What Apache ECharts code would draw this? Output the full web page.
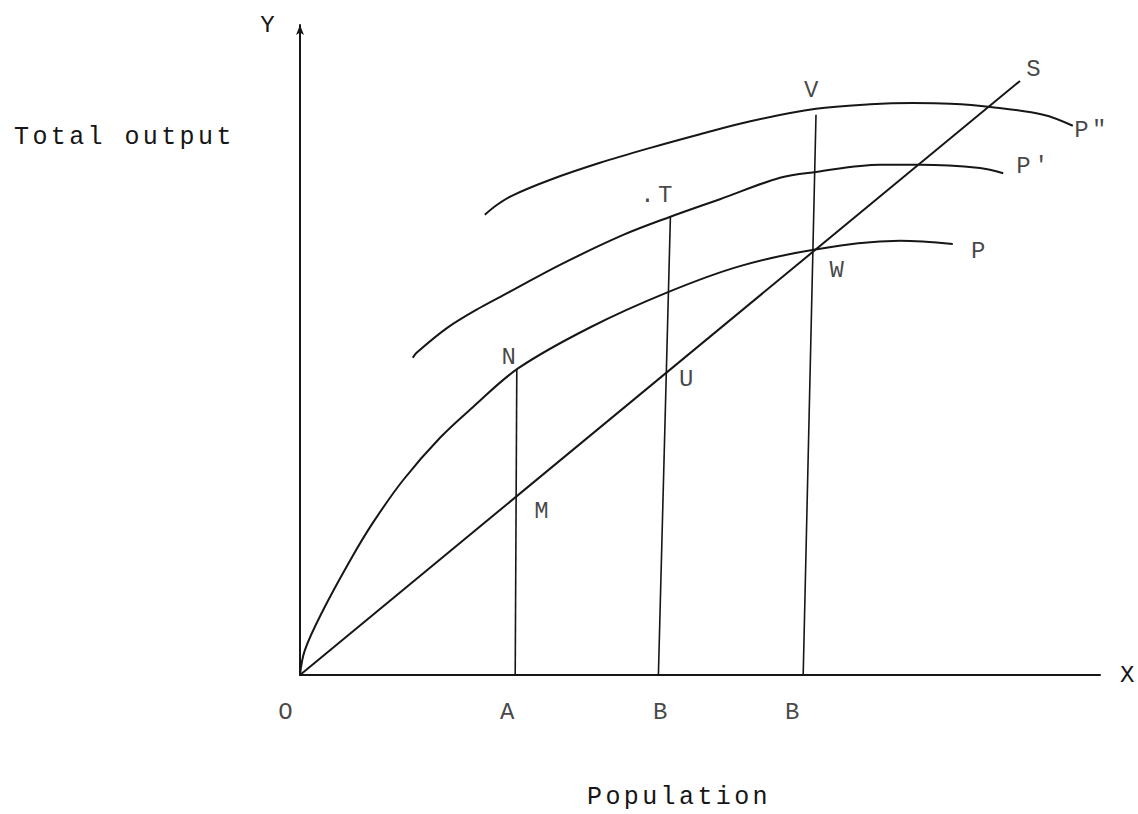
<!DOCTYPE html>
<html>
<head>
<meta charset="utf-8">
<script src="https://cdn.jsdelivr.net/npm/echarts@6/dist/echarts.min.js"></script>
<style>
html, body { margin: 0; padding: 0; background: #fff; }
#chart { width: 1138px; height: 814px; }
#chart text { letter-spacing: 3.4px; }
</style>
</head>
<body>
<div id="chart"></div>
<script>
// population (x) vs total output (y), arbitrary units 0..100
const sX = [0, 90];
const sY = [0, 91.4];

const pX = [0, 0.6, 2.9, 6.3, 9.1, 12.9, 17.5, 21.6, 27.3, 36.3, 46.0, 55.0, 64.6, 75.0, 81.6];
const pY = [0, 3.8, 10.0, 17.7, 23.4, 30.0, 36.5, 41.2, 47.2, 53.5, 58.9, 62.9, 65.5, 66.8, 66.3];

const p1X = [14.1, 14.6, 18.4, 22.5, 26.6, 32.5, 40.4, 46.3, 52.5, 60.0, 64.5, 72.5, 77.5, 85.0, 87.9];
const p1Y = [48.8, 49.6, 53.4, 56.5, 59.2, 63.1, 67.7, 70.5, 73.2, 76.5, 77.4, 78.5, 78.5, 78.0, 77.2];

const p2X = [23.1, 24.6, 26.6, 31.3, 37.5, 43.8, 50.0, 56.3, 64.5, 71.3, 76.6, 81.3, 86.3, 92.9, 96.6];
const p2Y = [70.8, 72.3, 73.8, 76.2, 78.8, 81.1, 83.2, 85.2, 87.1, 87.8, 88.0, 87.9, 87.4, 86.2, 84.5];

// verticals A, B, B: [bottom x, top x, top y]
const dropBottomX = [26.9, 44.8, 62.9];
const dropTopX = [27.1, 46.3, 64.5];
const dropTopY = [47.0, 70.5, 86.2];

// tick letters under the x axis
const tickNames = ['O', 'A', 'B', 'B'];
const tickX = [-1.6, 26.1, 45.25, 61.75];
const tickY = [-5.7, -5.7, -5.7, -5.7];

const labelNames = ['N', 'M', 'U', '.T', 'V', 'W', 'S', 'P\u2033', 'P\u2032', 'P'];
const labelX = [26.3, 30.4, 48.5, 44.75, 64.1, 67.3, 91.9, 99, 91.75, 85];
const labelY = [48.8, 25.1, 45.4, 73.7, 90.0, 62.3, 93.1, 83.8, 78.2, 65.1];

const ink = '#161616';
const font = 'Liberation Mono';

function zip(xs, ys) {
    return xs.map((x, i) => [x, ys[i]]);
}

function curve(name, xs, ys) {
    return {
        name, type: 'line', data: zip(xs, ys),
        smooth: 0.35, symbol: 'none', silent: true,
        lineStyle: {color: ink, width: 2}
    };
}

function letters(name, names, xs, ys) {
    return {
        name, type: 'scatter', symbolSize: 1, silent: true, clip: false,
        itemStyle: {color: 'rgba(0,0,0,0)'},
        data: names.map((n, i) => [xs[i], ys[i], n]),
        label: {
            show: true, position: 'inside',
            formatter: (p) => p.data[2],
            fontFamily: font, fontSize: 24, color: ink
        }
    };
}

const series = [
    {
        name: 'S', type: 'line', data: zip(sX, sY), symbol: 'none', silent: true,
        lineStyle: {color: ink, width: 2}
    },
    curve('P', pX, pY),
    curve('P1', p1X, p1Y),
    curve('P2', p2X, p2Y),
];

dropBottomX.forEach((x, i) => {
    series.push({
        name: 'drop' + i, type: 'line', symbol: 'none', silent: true,
        data: [[x, 0], [dropTopX[i], dropTopY[i]]],
        lineStyle: {color: ink, width: 1.6}
    });
});

series.push(letters('labels', labelNames, labelX, labelY));
series.push(letters('ticks', tickNames, tickX, tickY));

const chart = echarts.init(document.getElementById('chart'), null, {renderer: 'svg'});
chart.setOption({
    animation: false,
    backgroundColor: '#fff',
    title: [
        {text: 'Total output', left: 9, top: 120,
         textStyle: {fontFamily: font, fontSize: 25, fontWeight: 'normal', color: ink}},
        {text: 'Population', left: 582, top: 780,
         textStyle: {fontFamily: font, fontSize: 25, fontWeight: 'normal', color: ink}}
    ],
    grid: {left: 300, right: 38, top: 25, bottom: 139},
    xAxis: {
        type: 'value', min: 0, max: 100,
        name: 'X', nameLocation: 'end', nameGap: 20,
        nameTextStyle: {fontFamily: font, fontSize: 24, color: ink},
        axisLine: {lineStyle: {color: ink, width: 2}},
        axisTick: {show: false},
        axisLabel: {show: false},
        splitLine: {show: false}
    },
    yAxis: {
        type: 'value', min: 0, max: 100,
        name: 'Y', nameLocation: 'end', nameGap: 0,
        nameTextStyle: {fontFamily: font, fontSize: 24, color: ink,
                        align: 'right', verticalAlign: 'middle', padding: [0, 22, 0, 0]},
        axisLine: {lineStyle: {color: ink, width: 2},
                   symbol: ['none', 'arrow'], symbolSize: [6, 10]},
        axisTick: {show: false},
        axisLabel: {show: false},
        splitLine: {show: false}
    },
    series
});
</script>
</body>
</html>
